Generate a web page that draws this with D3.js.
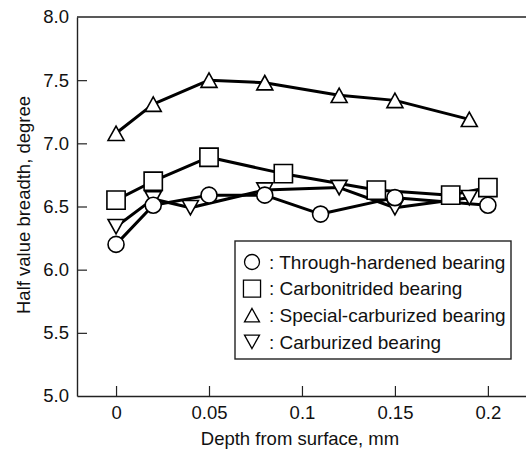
<!DOCTYPE html>
<html>
<head>
<meta charset="utf-8">
<script src="https://cdn.jsdelivr.net/npm/d3@7"></script>
<style>
body { margin: 0; background: #fff; }
text { font-family: "Liberation Sans", Arial, Helvetica, sans-serif; }
</style>
</head>
<body>
<div class="chart"></div>
<script>
var width = 526;
var height = 450;

// data
var seriesNames = ["Through-hardened bearing", "Carbonitrided bearing", "Special-carburized bearing", "Carburized bearing"];
var seriesSymbols = ["circle", "square", "triUp", "triDown"];

var throughX = [0, 0.02, 0.05, 0.08, 0.11, 0.15, 0.2];
var throughY = [6.20, 6.51, 6.59, 6.59, 6.44, 6.57, 6.51];
var carbonitridedX = [0, 0.02, 0.05, 0.09, 0.14, 0.18, 0.2];
var carbonitridedY = [6.55, 6.70, 6.89, 6.76, 6.63, 6.59, 6.65];
var specialX = [0, 0.02, 0.05, 0.08, 0.12, 0.15, 0.19];
var specialY = [7.08, 7.31, 7.50, 7.48, 7.38, 7.34, 7.19];
var carburizedX = [0, 0.02, 0.04, 0.08, 0.12, 0.15, 0.19];
var carburizedY = [6.34, 6.56, 6.49, 6.63, 6.65, 6.49, 6.57];

var xTicks = [0, 0.05, 0.1, 0.15, 0.2];
var xTickLabels = ["0", "0.05", "0.1", "0.15", "0.2"];
var yTicks = [5.0, 5.5, 6.0, 6.5, 7.0, 7.5, 8.0];

var series = [
	{ x: throughX, y: throughY },
	{ x: carbonitridedX, y: carbonitridedY },
	{ x: specialX, y: specialY },
	{ x: carburizedX, y: carburizedY }
].map(function(s, i) {
	return {
		name: seriesNames[i],
		symbol: seriesSymbols[i],
		points: s.x.map(function(d, j) { return { x: d, y: s.y[j] }; })
	};
});

// plot box (window.top is taken, so no plain "top")
var plotLeft = 77, plotRight = 526, plotTop = 17, plotBottom = 396;
var fontSize = 18.5;

var x = d3.scaleLinear().domain([-0.021, 0.2205]).range([plotLeft, plotRight]);
var y = d3.scaleLinear().domain([5, 8]).range([plotBottom, plotTop]);

var svg = d3.select('.chart').append('svg')
	.attr('width', width)
	.attr('height', height);

// marker shapes, centred on 0,0
function markerPath(type, s) {
	if (type == 'circle') {
		var r = s / 2;
		return 'M' + (-r) + ',0A' + r + ',' + r + ' 0 1,0 ' + r + ',0A' + r + ',' + r + ' 0 1,0 ' + (-r) + ',0Z';
	}
	if (type == 'square') {
		var h = s * 0.57;
		return 'M' + (-h) + ',' + (-h) + 'H' + h + 'V' + h + 'H' + (-h) + 'Z';
	}
	var w = s * 0.5, t = s * 0.45;
	if (type == 'triUp') return 'M0,' + (-t) + 'L' + w + ',' + t + 'L' + (-w) + ',' + t + 'Z';
	return 'M0,' + t + 'L' + w + ',' + (-t) + 'L' + (-w) + ',' + (-t) + 'Z';
}

// top frame line (right side is off the picture)
svg.append('line')
	.attr('x1', plotLeft).attr('x2', plotRight)
	.attr('y1', plotTop).attr('y2', plotTop)
	.attr('stroke', '#222').attr('stroke-width', 1.4);

// axes with inward ticks
var yAxis = svg.append('g')
	.attr('transform', 'translate(' + plotLeft + ',0)')
	.call(d3.axisLeft(y).tickValues(yTicks).tickSizeInner(-10).tickSizeOuter(0).tickPadding(8).tickFormat(d3.format('.1f')));
var xAxis = svg.append('g')
	.attr('transform', 'translate(0,' + plotBottom + ')')
	.call(d3.axisBottom(x).tickValues(xTicks).tickSizeInner(-10).tickSizeOuter(0).tickPadding(12)
		.tickFormat(function(d, i) { return xTickLabels[i]; }));

[xAxis, yAxis].forEach(function(a) {
	a.select('.domain').attr('stroke', '#222').attr('stroke-width', 1.4);
	a.selectAll('.tick line').attr('stroke', '#222').attr('stroke-width', 1.2);
	a.selectAll('.tick text').attr('fill', '#111').style('font-size', fontSize + 'px')
		.style('font-family', '"Liberation Sans", Arial, sans-serif');
});
yAxis.selectAll('.tick line').filter(function(d) { return d == 8 || d == 5; }).remove();
xAxis.selectAll('.tick text').attr('dy', '0.71em').attr('y', 10);

// titles
svg.append('text')
	.attr('x', 300).attr('y', 445)
	.attr('text-anchor', 'middle')
	.attr('fill', '#111')
	.style('font-size', fontSize + 'px')
	.text('Depth from surface, mm');
svg.append('text')
	.attr('transform', 'translate(30,205) rotate(-90)')
	.attr('text-anchor', 'middle')
	.attr('fill', '#111')
	.style('font-size', fontSize + 'px')
	.text('Half value breadth, degree');

// lines
var line = d3.line().x(function(d) { return x(d.x); }).y(function(d) { return y(d.y); });
svg.append('g').selectAll('path').data(series).enter().append('path')
	.attr('d', function(d) { return line(d.points); })
	.attr('fill', 'none')
	.attr('stroke', '#000')
	.attr('stroke-width', 3)
	.attr('stroke-linejoin', 'round');

// markers, drawn so the circles end up on top
var drawOrder = [3, 2, 1, 0];
drawOrder.forEach(function(i) {
	var s = series[i];
	svg.append('g').selectAll('path').data(s.points).enter().append('path')
		.attr('transform', function(d) { return 'translate(' + x(d.x) + ',' + y(d.y) + ')'; })
		.attr('d', markerPath(s.symbol, 16))
		.attr('fill', '#fff')
		.attr('stroke', '#000')
		.attr('stroke-width', 1.6);
});

// legend
var legend = svg.append('g');
legend.append('rect')
	.attr('x', 235).attr('y', 241)
	.attr('width', 276).attr('height', 118)
	.attr('fill', '#fff')
	.attr('stroke', '#222')
	.attr('stroke-width', 1.4);
var rows = legend.selectAll('g.row').data(series).enter().append('g')
	.attr('class', 'row')
	.attr('transform', function(d, i) { return 'translate(0,' + (262 + i * 26.6) + ')'; });
rows.append('path')
	.attr('transform', 'translate(252,0)')
	.attr('d', function(d) { return markerPath(d.symbol, 15); })
	.attr('fill', '#fff')
	.attr('stroke', '#000')
	.attr('stroke-width', 1.3);
rows.append('text')
	.attr('x', 269).attr('dy', '0.36em')
	.attr('fill', '#111')
	.style('font-size', '19px')
	.text(function(d) { return ': ' + d.name; });
</script>
</body>
</html>
